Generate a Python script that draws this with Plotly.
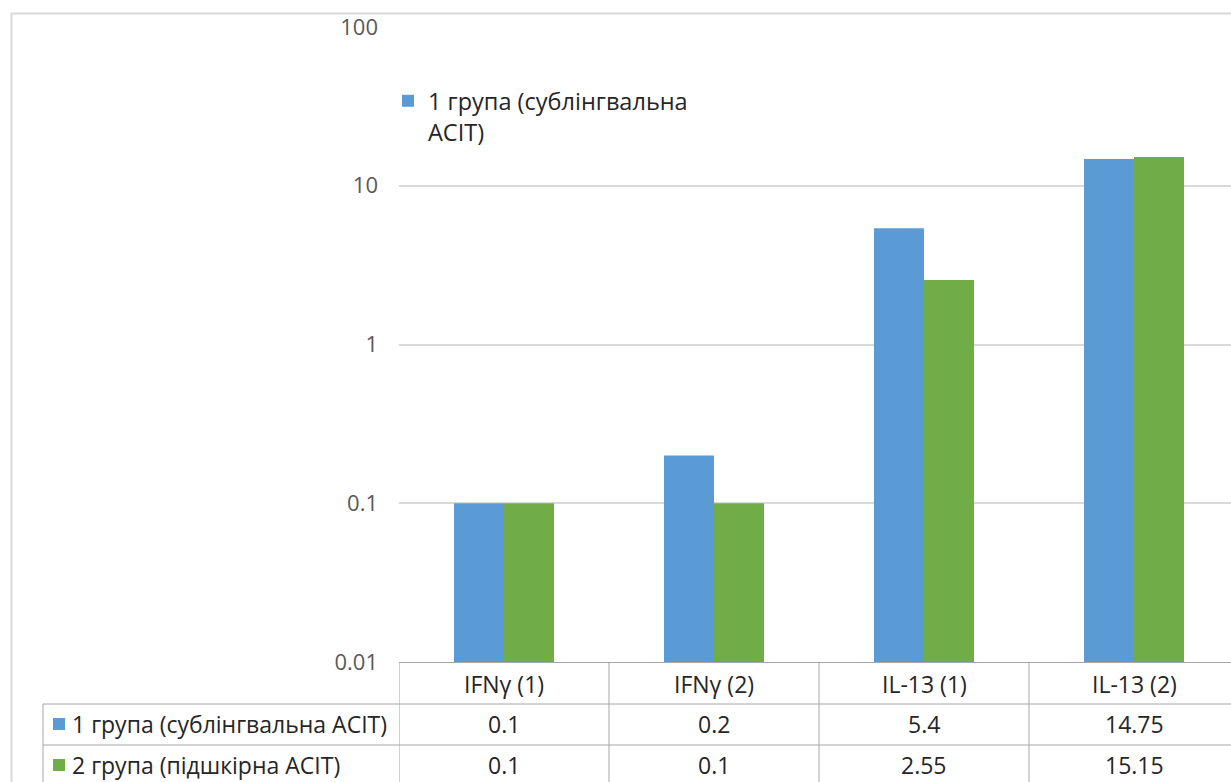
import plotly.graph_objects as go

categories = ["IFNγ (1)", "IFNγ (2)", "IL-13 (1)", "IL-13 (2)"]
series_names = ["1 група (сублінгвальна АСІТ)", "2 група (підшкірна АСІТ)"]
group1 = [0.1, 0.2, 5.4, 14.75]
group2 = [0.1, 0.1, 2.55, 15.15]
tick_vals = [0.01, 0.1, 1, 10, 100]
tick_text = ["0.01", "0.1", "1", "10", "100"]

colors = ["#5B9BD5", "#70AD47"]
FONT = "Open Sans"
W, H = 1231, 782
L, T, B = 399, 27, 120
PW = W - L
PH = H - T - B
CAT_W = 210


def px(x):
    return (x - L) / PW


def py(y):
    return (H - B - y) / PH


fig = go.Figure()
fig.add_trace(go.Bar(
    x=categories, y=group1, name=series_names[0],
    marker=dict(color=colors[0], line=dict(width=0)),
    showlegend=True,
))
fig.add_trace(go.Bar(
    x=categories, y=group2, name=series_names[1],
    marker=dict(color=colors[1], line=dict(width=0)),
    showlegend=False,
))
# legend label wrapping as in the original
fig.data[0].name = series_names[0].replace("вальна ", "вальна<br>")

shapes = []
annotations = []
line_col = "#A6A6A6"
txt_col = "#262626"
TS = 23
# outer chart border
shapes.append(dict(type="rect", xref="paper", yref="paper",
                   x0=px(11.5), x1=px(W + 20), y0=py(13.5), y1=py(H + 20),
                   line=dict(color="#D9D9D9", width=2), layer="below"))

# data table horizontal lines
row_tops = [662.5, 704, 745, 786]
shapes.append(dict(type="line", xref="paper", yref="paper",
                   x0=0, x1=1.05, y0=py(row_tops[0]), y1=py(row_tops[0]),
                   line=dict(color=line_col, width=1)))
for ry in row_tops[1:]:
    shapes.append(dict(type="line", xref="paper", yref="paper",
                       x0=px(43), x1=1.05, y0=py(ry), y1=py(ry),
                       line=dict(color=line_col, width=1)))
# vertical lines
shapes.append(dict(type="line", xref="paper", yref="paper",
                   x0=px(43), x1=px(43), y0=py(704), y1=py(800),
                   line=dict(color=line_col, width=1)))
for i in range(len(categories)):
    xv = i - 0.5
    shapes.append(dict(type="line", xref="x", yref="paper",
                       x0=xv, x1=xv, y0=py(662.5), y1=py(800),
                       line=dict(color=line_col, width=1)))

# header texts
for i, c in enumerate(categories):
    annotations.append(dict(x=i, y=py(684), xref="x", yref="paper",
                            text=c, showarrow=False,
                            font=dict(family=FONT, size=TS, color=txt_col),
                            xanchor="center", yanchor="middle"))
row_centers = [724, 765]
for r, (vals, name, col) in enumerate(zip([group1, group2], series_names, colors)):
    yc = row_centers[r]
    for i, v in enumerate(vals):
        annotations.append(dict(x=i, y=py(yc), xref="x", yref="paper",
                                text=f"{v:g}", showarrow=False,
                                font=dict(family=FONT, size=TS, color=txt_col),
                                xanchor="center", yanchor="middle"))
    shapes.append(dict(type="rect", xref="paper", yref="paper",
                       x0=px(53), x1=px(65), y0=py(yc - 6), y1=py(yc + 6),
                       fillcolor=col, line=dict(width=0)))
    annotations.append(dict(x=px(70), y=py(yc), xref="paper", yref="paper",
                            text=name, showarrow=False,
                            font=dict(family=FONT, size=TS, color=txt_col),
                            xanchor="left", yanchor="middle"))

fig.update_layout(
    width=W, height=H,
    margin=dict(l=L, r=0, t=T, b=B, pad=0),
    paper_bgcolor="white", plot_bgcolor="white",
    barmode="group", bargap=110 / 210, bargroupgap=0,
    font=dict(family=FONT, color="#595959", size=22),
    showlegend=True,
    legend=dict(x=px(388), y=py(79), xanchor="left", yanchor="top",
                bgcolor="rgba(0,0,0,0)", valign="top",
                font=dict(family=FONT, size=23.5, color=txt_col),
                itemclick=False),
    xaxis=dict(range=[-0.5, -0.5 + PW / CAT_W], showticklabels=False,
               showgrid=False, zeroline=False, showline=False, ticks=""),
    yaxis=dict(type="log", range=[-2, 2], tickvals=tick_vals, ticktext=tick_text,
               showgrid=True, gridcolor="#D9D9D9", gridwidth=1.5,
               zeroline=False, showline=False, ticks="",
               ticklabelstandoff=20,
               tickfont=dict(family=FONT, size=22, color="#595959")),
    shapes=shapes, annotations=annotations,
)

fig.write_html("out.html", config={"displayModeBar": False},
               post_script="document.body.style.margin='0px';")
